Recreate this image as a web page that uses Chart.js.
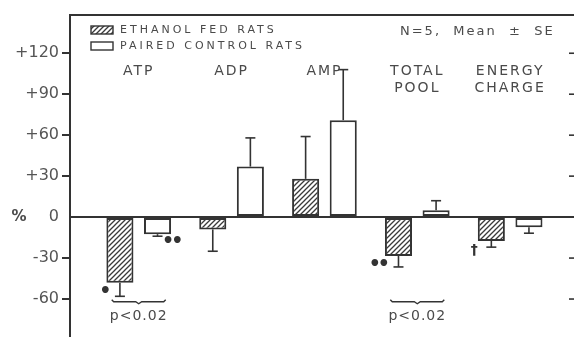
<!DOCTYPE html>
<html lang="en">
<head>
  <meta charset="UTF-8">
  <title>Ethanol fed rats - adenine nucleotides</title>
  <script src="https://cdn.jsdelivr.net/npm/chart.js"></script>
  <style>
    html, body { margin: 0; padding: 0; background: #fff; overflow: hidden; }
    .chart { width: 577px; height: 340px; }
  </style>
</head>
<body>
  <div class="chart">
    <canvas id="myCanvas"></canvas>
  </div>
  <script>
    // data (% change)
    const categories = [['ATP'], ['ADP'], ['AMP'], ['TOTAL', 'POOL'], ['ENERGY', 'CHARGE']];
    const ethanolValues = [-48, -9, 28, -28.5, -17.5];
    const ethanolSE = [10, 16, 31, 8, 4.5];
    const controlValues = [-12.5, 37, 71, 5, -7.5];
    const controlSE = [1.5, 21, 37, 7, 4.3];
    const ethanolMarks = ['•', '', '', '••', '†'];
    const controlMarks = ['••', '', '', '', ''];
    const pGroups = [0, 3];
    const pText = 'p<0.02';
    const yTicks = [-60, -30, 0, 30, 60, 90, 120];
    const noteText = 'N=5,  Mean  ±  SE';

    const ink = '#333';
    const textColor = '#4a4a4a';

    function makeHatch() {
      const c = document.createElement('canvas');
      c.width = 5; c.height = 5;
      const g = c.getContext('2d');
      g.fillStyle = '#fff';
      g.fillRect(0, 0, 5, 5);
      g.strokeStyle = '#3a3a3a';
      g.lineWidth = 1.3;
      g.beginPath();
      g.moveTo(0, 5); g.lineTo(5, 0);
      g.moveTo(-1, 1); g.lineTo(1, -1);
      g.moveTo(4, 6); g.lineTo(6, 4);
      g.stroke();
      return g.createPattern(c, 'repeat');
    }
    const hatch = makeHatch();

    function line(ctx, x1, y1, x2, y2) {
      ctx.beginPath();
      ctx.moveTo(x1, y1);
      ctx.lineTo(x2, y2);
      ctx.stroke();
    }

    const extras = {
      id: 'extras',
      afterDatasetsDraw(chart) {
        const { ctx, chartArea: a, scales: { x, y } } = chart;
        ctx.save();
        ctx.strokeStyle = ink;
        ctx.fillStyle = ink;

        // error bars + significance marks
        const sets = [[0, ethanolValues, ethanolSE, ethanolMarks, 'left'],
                      [1, controlValues, controlSE, controlMarks, 'right']];
        sets.forEach(([di, vals, se, marks, side]) => {
          const meta = chart.getDatasetMeta(di);
          meta.data.forEach((bar, i) => {
            const v = vals[i];
            const y0 = y.getPixelForValue(v);
            const y1 = y.getPixelForValue(v + Math.sign(v) * se[i]);
            ctx.lineWidth = 1.6;
            line(ctx, bar.x, y0, bar.x, y1);
            line(ctx, bar.x - 5, y1, bar.x + 5, y1);
            if (marks[i]) {
              const dots = marks[i].includes('•');
              ctx.font = dots ? 'bold 19px "DejaVu Sans"' : 'bold 14px "DejaVu Sans"';
              ctx.letterSpacing = dots ? '-3px' : '0px';
              ctx.textBaseline = 'middle';
              if (side === 'left') {
                ctx.textAlign = 'right';
                ctx.fillText(marks[i], bar.x - bar.width / 2 + (dots ? 2 : 0), y0 + 9);
              } else {
                ctx.textAlign = 'left';
                ctx.fillText(marks[i], bar.x + bar.width / 2 - 9, y0 + 8);
              }
              ctx.letterSpacing = '0px';
            }
          });
        });

        // p-value brackets
        const py = y.getPixelForValue(-62);
        pGroups.forEach(i => {
          const cx = x.getPixelForValue(i);
          ctx.lineWidth = 1.4;
          ctx.beginPath();
          ctx.moveTo(cx - 27, py - 2);
          ctx.lineTo(cx - 25, py);
          ctx.lineTo(cx - 3, py);
          ctx.lineTo(cx, py + 2);
          ctx.lineTo(cx + 3, py);
          ctx.lineTo(cx + 25, py);
          ctx.lineTo(cx + 27, py - 2);
          ctx.stroke();
          ctx.font = '14px "DejaVu Sans"';
          ctx.letterSpacing = '1px';
          ctx.fillStyle = textColor;
          ctx.textAlign = 'center';
          ctx.textBaseline = 'middle';
          ctx.fillText(pText, cx, py + 15);
          ctx.letterSpacing = '0px';
        });

        // category labels inside the plot
        ctx.font = '14px "DejaVu Sans"';
        ctx.letterSpacing = '2px';
        ctx.fillStyle = textColor;
        ctx.textAlign = 'center';
        ctx.textBaseline = 'middle';
        categories.forEach((lines, i) => {
          const cx = x.getPixelForValue(i);
          lines.forEach((t, k) => ctx.fillText(t, cx, a.top + 56 + k * 17));
        });

        // legend
        ctx.font = '11px "DejaVu Sans"';
        ctx.letterSpacing = '3px';
        ctx.textAlign = 'left';
        chart.data.datasets.forEach((ds, k) => {
          const by = a.top + 11 + k * 16;
          ctx.fillStyle = ds.backgroundColor;
          ctx.fillRect(a.left + 21, by, 22, 8);
          ctx.lineWidth = 1.4;
          ctx.strokeRect(a.left + 21, by, 22, 8);
          ctx.fillStyle = textColor;
          ctx.fillText(ds.label, a.left + 50, by + 4.5);
        });

        // note top right
        ctx.font = '13px "DejaVu Sans"';
        ctx.letterSpacing = '2px';
        ctx.fillText(noteText, 400, a.top + 17);
        ctx.letterSpacing = '0px';

        // % label on the axis
        ctx.font = 'bold 15px "DejaVu Sans"';
        ctx.textAlign = 'center';
        ctx.fillText('%', 19, y.getPixelForValue(0));

        // inward ticks on the right frame
        ctx.lineWidth = 1.6;
        y.ticks.forEach(t => {
          const ty = y.getPixelForValue(t.value);
          if (t.value !== 0) line(ctx, a.right - 8, ty, a.right, ty);
        });
        line(ctx, a.right - 1, a.top, a.right - 1, a.bottom);
        ctx.restore();
      }
    };

    const chart = new Chart(document.getElementById('myCanvas'), {
      type: 'bar',
      data: {
        datasets: [{
          label: 'ETHANOL FED RATS',
          data: ethanolValues.map((v, i) => ({ x: i, y: v })),
          backgroundColor: hatch,
          borderColor: ink,
          borderWidth: 2,
          borderSkipped: false
        }, {
          label: 'PAIRED CONTROL RATS',
          data: controlValues.map((v, i) => ({ x: i, y: v })),
          backgroundColor: '#fff',
          borderColor: ink,
          borderWidth: 2,
          borderSkipped: false
        }]
      },
      options: {
        responsive: true,
        maintainAspectRatio: false,
        animation: false,
        layout: { padding: 0 },
        categoryPercentage: 0.81,
        barPercentage: 0.72,
        plugins: {
          legend: { display: false },
          tooltip: { enabled: false }
        },
        scales: {
          x: {
            type: 'linear',
            position: 'top',
            offset: false,
            min: -0.74,
            max: 4.72,
            afterBuildTicks: s => { s.ticks = categories.map((c, i) => ({ value: i })); },
            afterFit: s => { s.height = 15; s.paddingLeft = 0; s.paddingRight = 0; },
            ticks: { display: false },
            grid: { display: false, offset: false },
            border: { display: true, color: ink, width: 2 }
          },
          y: {
            min: -90,
            max: 148,
            afterBuildTicks: s => { s.ticks = yTicks.map(v => ({ value: v })); },
            afterFit: s => { s.width = 70; s.paddingTop = 0; s.paddingBottom = 0; },
            ticks: {
              padding: 3,
              color: '#555',
              font: { family: 'DejaVu Sans', size: 16 },
              callback: v => v > 0 ? '+' + v : String(v)
            },
            grid: {
              drawOnChartArea: true,
              color: c => c.tick && c.tick.value === 0 ? ink : 'transparent',
              lineWidth: 2,
              tickLength: 8,
              tickWidth: 2,
              tickColor: c => c.tick && c.tick.value === 0 ? 'transparent' : ink
            },
            border: { display: true, color: ink, width: 2 }
          }
        }
      },
      plugins: [extras]
    });
  </script>
</body>
</html>
